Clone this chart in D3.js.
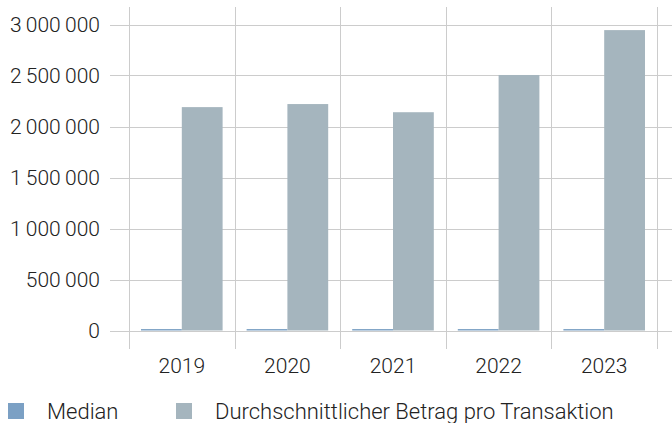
<!DOCTYPE html>
<html>
<head>
<meta charset="utf-8">
<script src="https://cdn.jsdelivr.net/npm/d3@7"></script>
<style>
  body { margin: 0; background: white; }
  text { font-family: Roboto, "Liberation Sans", sans-serif; font-weight: 300; fill: #222; }
</style>
</head>
<body>
<div id="container"></div>
<script>
const years = ["2019", "2020", "2021", "2022", "2023"]
const series = ["Median", "Durchschnittlicher Betrag pro Transaktion"]
const median = [14000, 14000, 14000, 14000, 14000]
const average = [2190000, 2220000, 2140000, 2505000, 2945000]
const yTicks = [0, 500000, 1000000, 1500000, 2000000, 2500000, 3000000]
const colors = ["#7ba0c4", "#a5b5be"]

const w = 672, h = 423
const svg = d3.select("#container").append("svg").attr("width", w).attr("height", h)

const x = d3.scaleBand().domain(years).range([129, 657]).paddingInner(0).paddingOuter(0)
const x1 = d3.scaleBand().domain(series).range([12, x.bandwidth() - 12])
const y = d3.scaleLinear().domain([0, 3000000]).range([330.5, 24.5])

const fmt = d3.formatLocale({ decimal: ",", thousands: "\u2009", grouping: [3], currency: ["", ""] }).format(",d")

// horizontal grid
svg.append("g").selectAll("line").data(yTicks).enter().append("line")
    .attr("x1", 110).attr("x2", w)
    .attr("y1", d => Math.round(y(d)) + 0.5).attr("y2", d => Math.round(y(d)) + 0.5)
    .attr("stroke", "#cccccc").attr("stroke-width", 1)

// vertical grid
const edges = years.map(d => x(d)).concat([x.range()[1]])
svg.append("g").selectAll("line").data(edges).enter().append("line")
    .attr("x1", d => Math.round(d) + 0.5).attr("x2", d => Math.round(d) + 0.5)
    .attr("y1", 7).attr("y2", 349)
    .attr("stroke", "#cccccc").attr("stroke-width", 1)

// y labels
svg.append("g").selectAll("text").data(yTicks).enter().append("text")
    .attr("x", 100).attr("y", d => y(d)).attr("dy", "0.35em")
    .attr("text-anchor", "end").attr("font-size", 21)
    .text(d => fmt(d))

// x labels
svg.append("g").selectAll("text").data(years).enter().append("text")
    .attr("x", d => x(d) + x.bandwidth() / 2).attr("y", 366).attr("dy", "0.35em")
    .attr("text-anchor", "middle").attr("font-size", 21)
    .text(d => d)

// bars
const rows = years.map((yr, i) => ({ year: yr, values: [median[i], average[i]] }))
const groups = svg.append("g").selectAll("g").data(rows).enter().append("g")
    .attr("transform", d => `translate(${x(d.year)},0)`)
groups.selectAll("rect").data(d => d.values.map((v, j) => ({ key: series[j], value: v, j }))).enter().append("rect")
    .attr("x", d => x1(d.key))
    .attr("width", x1.bandwidth())
    .attr("y", d => y(d.value))
    .attr("height", d => y(0) - y(d.value))
    .attr("fill", d => colors[d.j])

// legend
const legendX = [8, 176]
const legend = svg.append("g").selectAll("g").data(series).enter().append("g")
    .attr("transform", (d, i) => `translate(${legendX[i]}, 403)`)
legend.append("rect").attr("width", 16).attr("height", 16).attr("fill", (d, i) => colors[i])
legend.append("text").attr("x", 39).attr("y", 8).attr("dy", "0.35em").attr("font-size", 22).text(d => d)
</script>
</body>
</html>
